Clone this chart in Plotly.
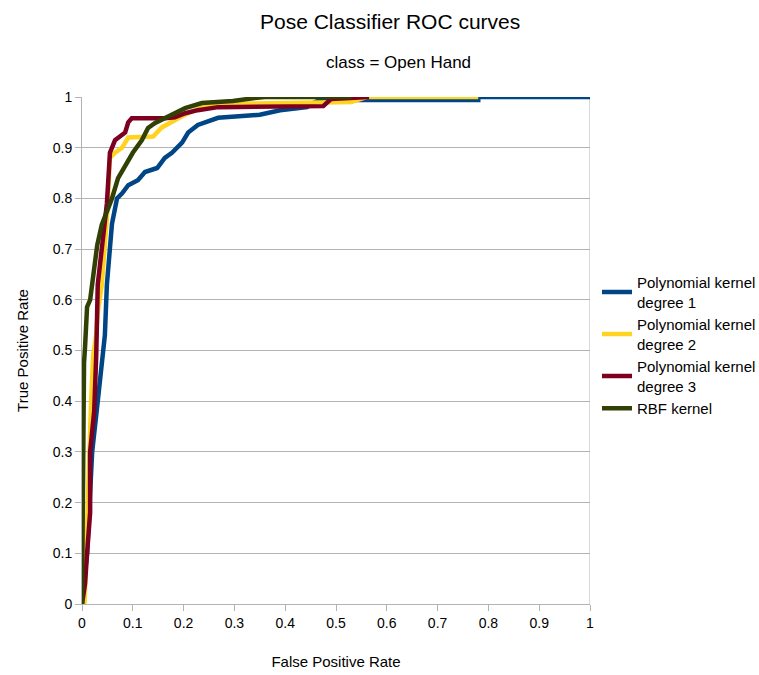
import plotly.graph_objects as go

names = ["Polynomial kernel<br>degree 1", "Polynomial kernel<br>degree 2",
         "Polynomial kernel<br>degree 3", "RBF kernel"]
colors = ["#004586", "#ffd320", "#7e0021", "#314004"]

fpr_deg1 = [0, 0.002, 0.01, 0.02, 0.031, 0.041, 0.045, 0.049, 0.059, 0.069, 0.079, 0.091,
            0.11, 0.124, 0.148, 0.163, 0.177, 0.197, 0.209, 0.228, 0.268, 0.35, 0.39,
            0.443, 0.455, 0.468, 0.78, 0.78, 1.0]
tpr_deg1 = [0, 0.028, 0.10, 0.30, 0.40, 0.49, 0.53, 0.63, 0.75, 0.80, 0.81, 0.826,
            0.836, 0.852, 0.86, 0.88, 0.89, 0.91, 0.93, 0.945, 0.959, 0.965, 0.974,
            0.98, 0.988, 0.994, 0.994, 1.0, 1.0]

fpr_deg2 = [0.005, 0.01, 0.014, 0.018, 0.022, 0.028, 0.031, 0.039, 0.049, 0.051, 0.055,
            0.065, 0.079, 0.091, 0.14, 0.157, 0.177, 0.197, 0.217, 0.236, 0.272, 0.445,
            0.48, 0.53, 0.56, 0.78]
tpr_deg2 = [0, 0.18, 0.30, 0.40, 0.49, 0.53, 0.575, 0.63, 0.76, 0.82, 0.88,
            0.89, 0.90, 0.92, 0.922, 0.94, 0.952, 0.962, 0.972, 0.98, 0.986, 0.988,
            0.99, 0.99, 1.0, 1.0]

fpr_deg3 = [0, 0.006, 0.01, 0.016, 0.016, 0.024, 0.028, 0.031, 0.031, 0.049, 0.055, 0.065,
            0.085, 0.091, 0.098, 0.163, 0.183, 0.203, 0.228, 0.268, 0.475, 0.49, 0.54,
            0.56, 0.565]
tpr_deg3 = [0, 0.04, 0.10, 0.18, 0.30, 0.38, 0.49, 0.575, 0.63, 0.79, 0.89, 0.915,
            0.93, 0.95, 0.958, 0.958, 0.96, 0.968, 0.974, 0.98, 0.982, 0.996, 0.998,
            1.0, 1.0]

fpr_rbf = [0, 0.001, 0.002, 0.004, 0.006, 0.01, 0.016, 0.02, 0.03, 0.039, 0.059, 0.071,
           0.085, 0.10, 0.118, 0.13, 0.144, 0.163, 0.183, 0.203, 0.236, 0.297, 0.34,
           0.36, 0.53]
tpr_rbf = [0, 0.2, 0.3, 0.475, 0.507, 0.586, 0.60, 0.63, 0.708, 0.748, 0.80, 0.84,
           0.866, 0.89, 0.915, 0.939, 0.949, 0.958, 0.968, 0.978, 0.988, 0.992, 0.998,
           1.0, 1.0]

xs = [fpr_deg1, fpr_deg2, fpr_deg3, fpr_rbf]
ys = [tpr_deg1, tpr_deg2, tpr_deg3, tpr_rbf]
tick_vals = [i / 10 for i in range(11)]
tick_text = ["0", "0.1", "0.2", "0.3", "0.4", "0.5", "0.6", "0.7", "0.8", "0.9", "1"]

fig = go.Figure()
for n, c, x, y in zip(names, colors, xs, ys):
    fig.add_trace(go.Scatter(x=x, y=y, mode="lines", name=n,
                             line=dict(color=c, width=4.5)))

font = "Liberation Sans, Arial, sans-serif"
fig.update_layout(
    width=759, height=675,
    margin=dict(l=82, r=169, t=97, b=71, autoexpand=False),
    paper_bgcolor="white", plot_bgcolor="white",
    font=dict(family=font, size=14, color="#000000"),
    annotations=[
        dict(text="Pose Classifier ROC curves", x=(390 - 82) / 508,
             y=(675 - 22 - 71) / 507,
             xref="paper", yref="paper", yanchor="middle",
             showarrow=False, font=dict(size=21)),
        dict(text="class = Open Hand", x=(398 - 82) / 508,
             y=(675 - 62 - 71) / 507,
             xref="paper", yref="paper", yanchor="middle",
             showarrow=False, font=dict(size=17)),
    ],
    legend=dict(x=597 / 759, y=1 - 266 / 675, xref="container", yref="container",
                xanchor="left", yanchor="top",
                font=dict(size=15), tracegroupgap=3, itemwidth=30,
                bgcolor="rgba(0,0,0,0)"),
    xaxis=dict(range=[0, 1], tickvals=tick_vals, ticktext=tick_text,
               showgrid=False, zeroline=False, showline=True, linecolor="#b3b3b3",
               mirror=False, ticks="outside", ticklen=6, tickcolor="#b3b3b3",
               title=dict(text="False Positive Rate", font=dict(size=15), standoff=26),
               tickfont=dict(size=14)),
    yaxis=dict(range=[0, 1], tickvals=tick_vals, ticktext=tick_text,
               showgrid=True, gridcolor="#b3b3b3", zeroline=False, showline=True,
               linecolor="#b3b3b3", ticks="outside", ticklen=6, tickcolor="#b3b3b3",
               title=dict(text="True Positive Rate", font=dict(size=15), standoff=20),
               tickfont=dict(size=14)),
    shapes=[dict(type="line", xref="x", yref="y", x0=1, x1=1, y0=0, y1=1,
                 line=dict(color="#b3b3b3", width=1), layer="below")],
)
fig.write_html("out.html")
